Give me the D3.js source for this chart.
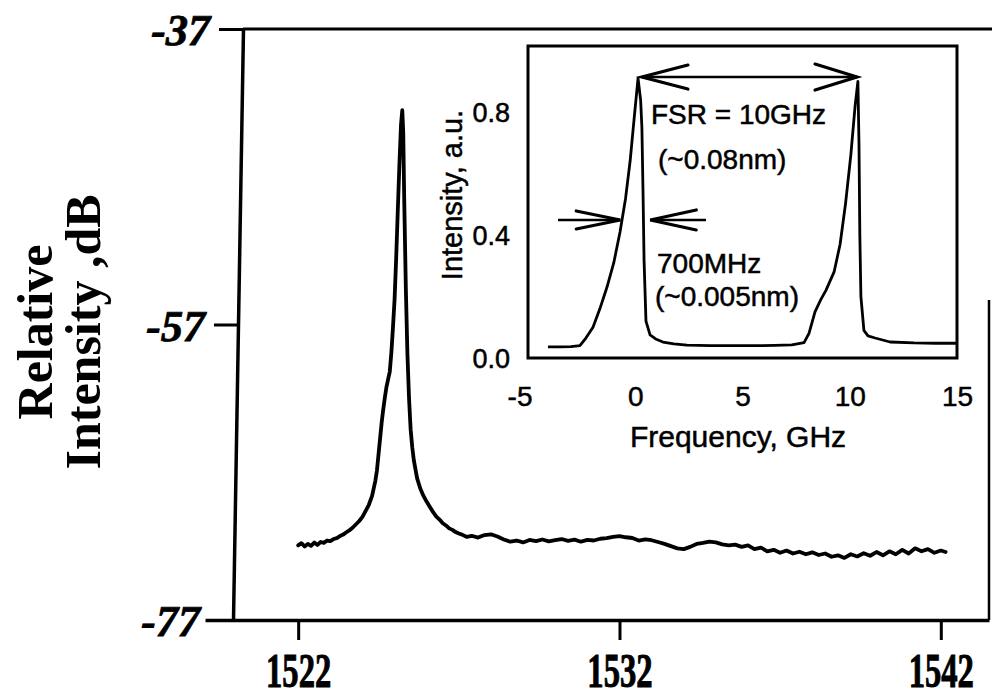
<!DOCTYPE html>
<html><head><meta charset="utf-8">
<script src="https://cdn.jsdelivr.net/npm/d3@7/dist/d3.min.js"></script>
<style>body{margin:0;background:#fff}</style>
</head><body>
<svg id="chart" width="992" height="700"></svg>
<script>
// ---------- data: main spectrum ----------
const wavelengthNm = [
 1522.00,1522.10,1522.20,1522.30,1522.40,1522.50,1522.60,1522.70,1522.80,1522.90,
 1523.00,1523.10,1523.20,1523.30,1523.40,1523.50,1523.60,1523.70,1523.80,1523.90,
 1524.00,1524.10,1524.20,1524.30,1524.40,1524.45,1524.50,1524.55,1524.60,1524.65,
 1524.70,1524.75,1524.80,1524.85,1524.90,1524.95,1525.00,1525.05,1525.10,1525.15,
 1525.20,1525.24,1525.27,1525.30,1525.35,1525.40,1525.45,1525.50,1525.55,1525.60,
 1525.70,1525.80,1525.90,1526.00,1526.10,1526.20,1526.30,1526.40,1526.50,1526.60,
 1526.70,1526.80,1526.90,1527.00,1527.10,1527.25,
 1527.4,1527.6,1527.8,1528.0,1528.2,1528.4,1528.6,1528.8,1529.0,1529.2,
 1529.4,1529.6,1529.8,1530.0,1530.2,1530.4,1530.6,1530.8,1531.0,1531.2,
 1531.4,1531.6,1531.8,1532.0,1532.2,1532.4,1532.6,1532.8,1533.0,1533.2,
 1533.4,1533.6,1533.8,1534.0,1534.2,1534.4,1534.6,1534.8,1535.0,1535.2,
 1535.4,1535.6,1535.8,1536.0,1536.2,1536.4,1536.6,1536.8,1537.0,1537.2,
 1537.4,1537.6,1537.8,1538.0,1538.2,1538.4,1538.6,1538.8,1539.0,1539.2,
 1539.4,1539.6,1539.8,1540.0,1540.2,1540.4,1540.6,1540.8,1541.0,1541.2,
 1541.4,1541.6,1541.8,1542.0,1542.15
];
const intensityDb = [
 -71.95,-71.80,-72.02,-71.85,-71.98,-71.76,-71.92,-71.72,-71.78,-71.62,
 -71.66,-71.52,-71.46,-71.32,-71.22,-71.06,-70.92,-70.74,-70.52,-70.30,
 -70.02,-69.62,-69.20,-68.60,-67.60,-66.90,-65.80,-64.70,-63.60,-62.70,
 -61.90,-61.20,-60.70,-60.20,-58.90,-57.20,-55.30,-52.50,-49.30,-46.20,
 -43.50,-42.50,-44.00,-48.50,-54.50,-59.00,-62.00,-64.10,-65.30,-66.20,
 -67.40,-68.10,-68.60,-69.00,-69.35,-69.70,-70.00,-70.20,-70.45,-70.60,
 -70.80,-70.90,-71.05,-71.15,-71.22,-71.38,
 -71.30,-71.42,-71.25,-71.20,-71.35,-71.55,-71.70,-71.62,-71.75,-71.58,
 -71.66,-71.55,-71.68,-71.60,-71.52,-71.64,-71.56,-71.70,-71.58,-71.62,
 -71.50,-71.46,-71.38,-71.32,-71.40,-71.45,-71.62,-71.55,-71.60,-71.72,
 -71.85,-72.00,-72.15,-72.20,-72.05,-71.85,-71.78,-71.70,-71.75,-71.88,
 -71.95,-71.90,-72.05,-71.95,-72.20,-72.10,-72.35,-72.25,-72.45,-72.30,
 -72.50,-72.38,-72.55,-72.42,-72.60,-72.50,-72.72,-72.62,-72.80,-72.55,
 -72.70,-72.48,-72.65,-72.40,-72.62,-72.35,-72.55,-72.25,-72.50,-72.15,
 -72.35,-72.20,-72.45,-72.30,-72.40
];
const mainXTicks = [1522, 1532, 1542];
const mainYTicks = [-77, -57, -37];
const mainYTitle = ["Relative", "Intensity ,dB"];

// ---------- data: inset ----------
const insetFreqGHz = [-4.07,-3.5,-3.0,-2.58,-2.3,-1.97,-1.65,-1.32,-1.0,-0.71,-0.45,-0.24,-0.05,0.13,0.25,0.31,0.36,0.41,0.5,0.69,0.95,1.29,1.8,2.41,3.5,4.5,5.5,6.5,7.3,7.87,8.1,8.38,8.65,8.89,9.27,9.55,9.8,10.05,10.25,10.38,10.43,10.47,10.52,10.66,10.85,11.18,11.88,13.0,14.0,15.0];
const insetIntensity = [0.036,0.036,0.037,0.04,0.065,0.1,0.16,0.23,0.31,0.41,0.52,0.64,0.78,0.91,0.84,0.75,0.55,0.32,0.12,0.075,0.062,0.052,0.046,0.042,0.04,0.04,0.04,0.041,0.043,0.05,0.08,0.15,0.19,0.22,0.28,0.37,0.5,0.66,0.82,0.9,0.7,0.4,0.2,0.09,0.072,0.065,0.052,0.049,0.048,0.048];
const insetXTicks = [-5, 0, 5, 10, 15];
const insetYTicks = [0.0, 0.4, 0.8];
const insetXTitle = "Frequency, GHz";
const insetYTitle = "Intensity, a.u.";
const fsrLabels = ["FSR = 10GHz", "(~0.08nm)"];
const widthLabels = ["700MHz", "(~0.005nm)"];
// annotation anchors in data units (GHz, a.u.)
const fsrArrow = {from: 0.31, to: 10.34, level: 0.914};
const widthArrows = {leftTail: -3.6, leftTip: -0.7, rightTip: 0.7, rightTail: 3.3, level: 0.449};

// ---------- drawing ----------
const svg = d3.select("#chart");
const serif = "'Liberation Serif','Times New Roman',serif";
const sans = "'Liberation Sans',Arial,Helvetica,sans-serif";

const xMain = d3.scaleLinear().domain([1519.1, 1543.5]).range([205, 989]);
const yMain = d3.scaleLinear().domain([-77, -37]).range([620, 29]);
const axisX0 = 243;

// top border & right border
svg.append("line").attr("x1", axisX0).attr("x2", 992)
  .attr("y1", yMain(-37)).attr("y2", yMain(-37))
  .attr("stroke", "#000").attr("stroke-width", 3);
svg.append("line").attr("x1", 989).attr("x2", 989)
  .attr("y1", 300).attr("y2", yMain(-77))
  .attr("stroke", "#000").attr("stroke-width", 2.5);

// bottom axis
const gx = svg.append("g").attr("transform", `translate(0,${yMain(-77)})`)
  .call(d3.axisBottom(xMain).tickValues(mainXTicks).tickSize(20).tickSizeOuter(0).tickFormat(d => String(d)));
gx.select(".domain").attr("stroke-width", 3.5);
gx.selectAll(".tick line").attr("stroke-width", 3);
gx.selectAll(".tick text")
  .attr("font-family", serif).attr("font-weight", "bold").attr("font-size", 48)
  .attr("fill", "#000").attr("stroke", "#000").attr("stroke-width", 1)
  .attr("dy", null).attr("y", 67)
  .attr("transform", "scale(0.68,1)");

// left axis (slightly tilted as in the scan)
const tilt = Math.atan(-10 / 591) * 180 / Math.PI;
const gy = svg.append("g")
  .attr("transform", `translate(${axisX0},0) translate(0,${yMain(-37)}) skewX(${tilt}) translate(0,${-yMain(-37)})`)
  .call(d3.axisLeft(yMain).tickValues(mainYTicks).tickSize(24).tickSizeOuter(0).tickFormat(d => String(d)));
gy.select(".domain").attr("stroke-width", 3.5);
gy.selectAll(".tick line").attr("stroke-width", 3);
gy.selectAll(".tick text")
  .attr("font-family", serif).attr("font-weight", "bold").attr("font-style", "italic")
  .attr("font-size", 44).attr("fill", "#000").attr("stroke", "#000").attr("stroke-width", 0.8)
  .attr("x", -33).attr("dy", "0.36em");

// y title
mainYTitle.forEach((t, i) => {
  svg.append("text")
    .attr("transform", `translate(${52 + i * 48},332) rotate(-90)`)
    .attr("text-anchor", "middle")
    .attr("font-family", serif).attr("font-weight", "bold").attr("font-size", 50)
    .text(t);
});

// main spectrum
const mainData = wavelengthNm.map((w, i) => [w, intensityDb[i]]);
svg.append("path").datum(mainData)
  .attr("fill", "none").attr("stroke", "#000").attr("stroke-width", 3.8)
  .attr("stroke-linejoin", "round").attr("stroke-linecap", "round")
  .attr("d", d3.line().x(d => xMain(d[0])).y(d => yMain(d[1])));

// ---------- inset ----------
const xIn = d3.scaleLinear().domain([-5, 15]).range([528, 957]);
const yIn = d3.scaleLinear().domain([0, 1.015]).range([358, 46]);

svg.append("rect").attr("x", 528).attr("y", 46)
  .attr("width", 957 - 528).attr("height", 358 - 46)
  .attr("fill", "#fff").attr("stroke", "#000").attr("stroke-width", 3);

const heavy = sel => sel.attr("stroke", "#000").attr("stroke-width", 0.5);

const gxi = svg.append("g").attr("transform", `translate(0,${yIn(0)})`)
  .call(d3.axisBottom(xIn).tickValues(insetXTicks).tickSize(0).tickFormat(d => String(d)));
gxi.select(".domain").remove();
gxi.selectAll(".tick text").attr("font-family", sans).attr("font-size", 28)
  .attr("fill", "#000").attr("dy", null).attr("y", 48)
  .attr("text-anchor", d => d < 0 ? "end" : "middle")
  .attr("x", d => d < 0 ? 4 : 0)
  .call(heavy);

const gyi = svg.append("g").attr("transform", `translate(${xIn(-5)},0)`)
  .call(d3.axisLeft(yIn).tickValues(insetYTicks).tickSize(0).tickFormat(d3.format(".1f")));
gyi.select(".domain").remove();
gyi.selectAll(".tick text").attr("font-family", sans).attr("font-size", 27)
  .attr("fill", "#000").attr("x", -18).attr("dy", "0.36em").call(heavy);

svg.append("text").attr("x", 738).attr("y", 447)
  .attr("text-anchor", "middle").attr("font-family", sans).attr("font-size", 30)
  .text(insetXTitle).call(heavy);
svg.append("text").attr("transform", `translate(462,195) rotate(-90)`)
  .attr("text-anchor", "middle").attr("font-family", sans).attr("font-size", 29)
  .text(insetYTitle).call(heavy);

const insetData = insetFreqGHz.map((f, i) => [f, insetIntensity[i]]);
svg.append("path").datum(insetData)
  .attr("fill", "none").attr("stroke", "#000").attr("stroke-width", 2.8)
  .attr("stroke-linejoin", "round")
  .attr("d", d3.line().x(d => xIn(d[0])).y(d => yIn(d[1])));

// arrows
function arrowHead(tipX, tipY, dir, len, spread) {
  const p = d3.path();
  p.moveTo(tipX + dir * len, tipY - spread);
  p.lineTo(tipX, tipY);
  p.lineTo(tipX + dir * len, tipY + spread);
  svg.append("path").attr("d", p.toString()).attr("fill", "none")
    .attr("stroke", "#000").attr("stroke-width", 3.2).attr("stroke-linecap", "round");
}
function hLine(x1, x2, y) {
  svg.append("line").attr("x1", x1).attr("x2", x2).attr("y1", y).attr("y2", y)
    .attr("stroke", "#000").attr("stroke-width", 2.6);
}
const fy = yIn(fsrArrow.level);
hLine(xIn(fsrArrow.from), xIn(fsrArrow.to), fy);
arrowHead(xIn(fsrArrow.from), fy, 1, 46, 12);
arrowHead(xIn(fsrArrow.to), fy, -1, 42, 13);

const wy = yIn(widthArrows.level);
hLine(xIn(widthArrows.leftTail), xIn(widthArrows.leftTip), wy);
arrowHead(xIn(widthArrows.leftTip), wy, -1, 44, 9);
hLine(xIn(widthArrows.rightTip), xIn(widthArrows.rightTail), wy);
arrowHead(xIn(widthArrows.rightTip), wy, 1, 46, 10);

// annotation text
[[fsrLabels[0], 651, 124], [fsrLabels[1], 658, 169], [widthLabels[0], 657, 273], [widthLabels[1], 655, 306]]
  .forEach(([t, x, y]) => {
    svg.append("text").attr("x", x).attr("y", y)
      .attr("font-family", sans).attr("font-size", 28).text(t).call(heavy);
  });
</script>
</body></html>
